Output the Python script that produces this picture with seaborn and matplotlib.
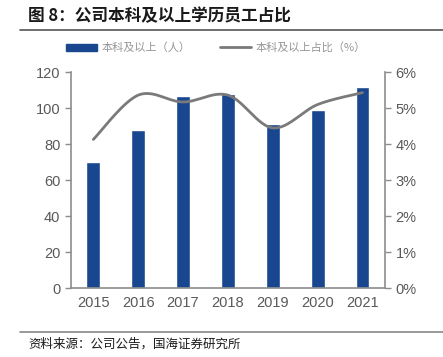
import numpy as np
import pandas as pd
import matplotlib
matplotlib.use("Agg")
import matplotlib.pyplot as plt
import seaborn as sns
from matplotlib.lines import Line2D
from matplotlib.patches import Patch

years = ["2015", "2016", "2017", "2018", "2019", "2020", "2021"]
staff = [70, 88, 107, 108, 91, 99, 112]
ratio = [4.13, 5.36, 5.17, 5.36, 4.45, 5.10, 5.43]
left_ticks = [0, 20, 40, 60, 80, 100, 120]
right_ticks = [0, 1, 2, 3, 4, 5, 6]

sns.set_style("white")
plt.rcParams["font.family"] = ["Noto Sans CJK SC", "DejaVu Sans"]

BAR = "#18468f"
LINE = "#7a7a7a"
AX = "#8c8c8c"
TXT = "#595959"
NUMFONT = ["Liberation Sans", "DejaVu Sans"]

fig = plt.figure(figsize=(4.43, 3.57), dpi=100)
ax = fig.add_axes([0.160, 0.193, 0.709, 0.605])

df = pd.DataFrame({"year": years, "staff": staff, "ratio": ratio})
sns.barplot(data=df, x="year", y="staff", color=BAR, width=0.31, ax=ax, saturation=1)
ax.set_ylim(0, 120)
ax.set_xlim(-0.5, 6.5)
ax.set_yticks(left_ticks)
ax.set_xlabel("")
ax.set_ylabel("")

ax2 = ax.twinx()
# smooth curve (Catmull-Rom) through the data points
x = np.arange(len(ratio), dtype=float)
y = np.array(ratio)
xs, ys = [], []
px = np.concatenate([[x[0]], x, [x[-1]]])
py = np.concatenate([[y[0]], y, [y[-1]]])
for i in range(1, len(px) - 2):
    t = np.linspace(0, 1, 30)
    p0, p1, p2, p3 = py[i-1], py[i], py[i+1], py[i+2]
    q0, q1, q2, q3 = px[i-1], px[i], px[i+1], px[i+2]
    def cr(a0, a1, a2, a3):
        return 0.5 * ((2*a1) + (-a0 + a2)*t + (2*a0 - 5*a1 + 4*a2 - a3)*t**2 + (-a0 + 3*a1 - 3*a2 + a3)*t**3)
    xs.append(cr(q0, q1, q2, q3)); ys.append(cr(p0, p1, p2, p3))
xs = np.concatenate(xs); ys = np.concatenate(ys)
sns.lineplot(x=xs, y=ys, color=LINE, linewidth=2, ax=ax2, sort=False)
ax2.set_ylim(0, 6)
ax2.set_yticks(right_ticks)
ax2.set_yticklabels([f"{v}%" for v in right_ticks])
ax2.set_xlim(-0.5, 6.5)

for a in (ax, ax2):
    for s in a.spines.values():
        s.set_visible(False)
ax.spines["left"].set_visible(True)
ax.spines["bottom"].set_visible(True)
ax2.spines["right"].set_visible(True)
for sp in (ax.spines["left"], ax.spines["bottom"], ax2.spines["right"]):
    sp.set_color(AX)
    sp.set_linewidth(1.2)

ax.tick_params(axis="y", direction="out", length=4, color=AX, labelcolor=TXT, labelsize=10.5, width=1)
ax2.tick_params(axis="y", direction="out", length=4, color=AX, labelcolor=TXT, labelsize=10.5, width=1)
ax.tick_params(axis="x", length=0, labelcolor=TXT, labelsize=10.5, pad=6)
ax.set_xticks(np.arange(-0.5, 7, 1), minor=True)
ax.tick_params(axis="x", which="minor", direction="out", length=4, color=AX, width=1)
for lab in ax.get_xticklabels() + ax.get_yticklabels() + ax2.get_yticklabels():
    lab.set_family(NUMFONT)
ax.grid(False); ax2.grid(False)

handles = [Patch(facecolor=BAR, edgecolor=BAR), Line2D([], [], color=LINE, linewidth=2)]
fig.legend(handles, ["本科及以上（人）", "本科及以上占比（%）"], loc="center",
           bbox_to_anchor=(0.487, 0.866), ncol=2, frameon=False, fontsize=8,
           labelcolor="#959595", handlelength=2.8, handleheight=0.6, columnspacing=2.6, handletextpad=0.4)

fig.text(0.063, 0.955, "图 8：公司本科及以上学历员工占比", fontsize=12, fontweight="bold",
         ha="left", va="center", color="#1a1a1a")
fig.add_artist(Line2D([0.045, 1.0], [0.915, 0.915], color="#555555", linewidth=1.2, transform=fig.transFigure))
fig.add_artist(Line2D([0.045, 1.0], [0.070, 0.070], color="#888888", linewidth=1.2, transform=fig.transFigure))
fig.text(0.063, 0.037, "资料来源：公司公告，国海证券研究所", fontsize=9, ha="left", va="center", color="#1a1a1a")

fig.savefig("out.png", dpi=100)
